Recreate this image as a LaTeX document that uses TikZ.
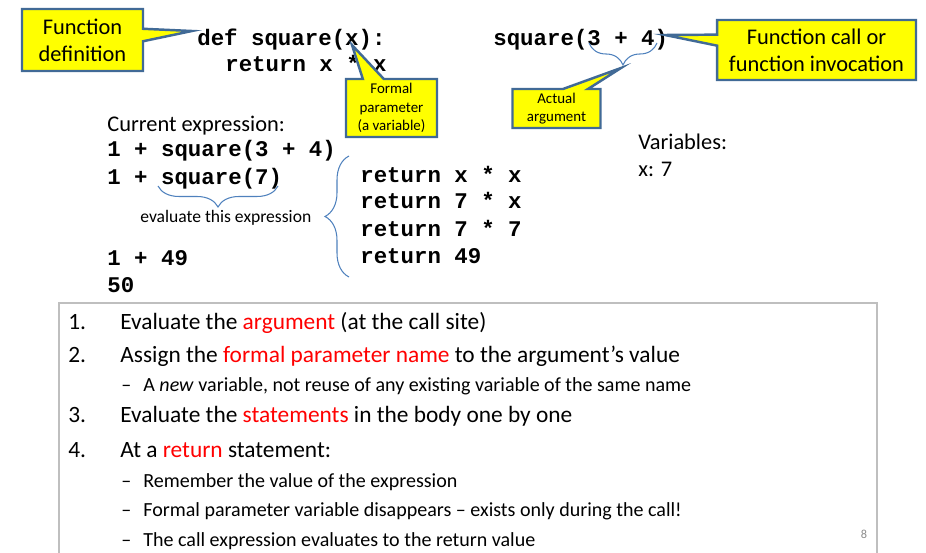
\documentclass[tikz,border=0pt]{standalone}
\usepackage{fontspec}
\setmainfont{Carlito}
\setmonofont{Liberation Mono}
\usetikzlibrary{shapes.callouts,decorations.pathreplacing}
\definecolor{notefill}{RGB}{255,255,0}
\definecolor{noteline}{RGB}{65,106,150}
\definecolor{bracecol}{RGB}{79,129,189}
\definecolor{framegray}{RGB}{191,191,191}
\definecolor{keyred}{RGB}{255,0,0}
\definecolor{pagegray}{RGB}{140,140,140}

\begin{document}
\begin{tikzpicture}[x=0.02cm,y=-0.02cm,
    code/.style={anchor=base west,inner sep=0pt,font=\fontsize{12.75}{15}\selectfont\ttfamily\bfseries},
    plain/.style={anchor=base west,inner sep=0pt,font=\fontsize{12.75}{15}\selectfont},
    note/.style={rectangle callout,draw=noteline,line width=1.4pt,fill=notefill,align=center,inner sep=0pt},
    bignote/.style={note,font=\fontsize{12.75}{15.2}\selectfont},
    smallnote/.style={note,font=\fontsize{8.5}{10.4}\selectfont},
    curly/.style={draw=bracecol,line width=0.6pt,decorate,decoration={brace,amplitude=#1}},
    listitem/.style={anchor=base west,inner sep=0pt,font=\fontsize{13.3}{16}\selectfont},
    listsub/.style={anchor=base west,inner sep=0pt,font=\fontsize{11.4}{14}\selectfont}
  ]
    \useasboundingbox (0,0) rectangle (926,553);

    % code at the top
    \node[code] (defline) at (197,46) {def square(x):};
    \node[code] (defret) at (225,72) {return x * x};
    \node[code] (callsite) at (493,46) {square(3 + 4)};

    % evaluation trace
    \node[plain] (curhead) at (107,132) {Current expression:};
    \node[code] (expr1) at (107,157) {1 + square(3 + 4)};
    \node[code] (expr2) at (107,185) {1 + square(7)};
    \node[plain,font=\fontsize{10}{12}\selectfont] (evalnote) at (140,223) {evaluate this expression};
    \node[code] (expr3) at (107,266) {1 + 49};
    \node[code] (expr4) at (107,293) {50};

    \node[code] (ret1) at (360,183) {return x * x};
    \node[code] (ret2) at (360,209) {return 7 * x};
    \node[code] (ret3) at (360,237) {return 7 * 7};
    \node[code] (ret4) at (360,264) {return 49};

    \node[plain] (varhead) at (638,150) {Variables:};
    \node[plain] (varx) at (638,177) {x: 7};

    % braces
    \coordinate (argR) at (657,43);
    \coordinate (argL) at (589,43);
    \coordinate (sqR) at (278,186);
    \coordinate (sqL) at (158,186);
    \coordinate (bodyB) at (349,277);
    \coordinate (bodyT) at (349,156);
    \draw[curly=0.44cm] (argR) -- (argL);
    \draw[curly=0.42cm] (sqR) -- (sqL);
    \draw[curly=0.48cm] (bodyB) -- (bodyT);

    % callouts
    \coordinate (deftip) at (192,31);
    \coordinate (calltip) at (665,35);
    \coordinate (formaltip) at (352,45);
    \coordinate (actualtip) at (621,68);
    \node[bignote,minimum width=2.42cm,minimum height=1.24cm,
      callout absolute pointer={(deftip)},callout pointer width=0.25cm] (defnote) at (82.5,40) {Function\\definition};
    \node[bignote,minimum width=3.98cm,minimum height=1.2cm,
      callout absolute pointer={(calltip)},callout pointer width=0.22cm] (callnote) at (816.5,50) {Function call or\\function invocation};
    \node[smallnote,minimum width=1.82cm,minimum height=1.16cm,
      callout absolute pointer={(formaltip)},callout pointer width=0.42cm] (formalnote) at (391.5,108) {Formal\\parameter\\(a variable)};
    \node[smallnote,minimum width=1.76cm,minimum height=0.78cm,
      callout absolute pointer={(actualtip)},callout pointer width=0.5cm] (actualnote) at (556.5,108.5) {Actual\\argument};

    % rules box
    \draw[framegray,line width=0.8pt] (59,553) -- (59,303) -- (877,303) -- (877,553);
    \node[listitem] (num1) at (68,330) {1.};
    \node[listitem] (step1) at (120,330) {Evaluate the \textcolor{keyred}{argument} (at the call site)};
    \node[listitem] (num2) at (68,363) {2.};
    \node[listitem] (step2) at (120,363) {Assign the \textcolor{keyred}{formal parameter name} to the argument’s value};
    \node[listsub] (dash2) at (121,392) {–};
    \node[listsub] (sub2) at (143,392) {A \textit{new} variable, not reuse of any existing variable of the same name};
    \node[listitem] (num3) at (68,423) {3.};
    \node[listitem] (step3) at (120,423) {Evaluate the \textcolor{keyred}{statements} in the body one by one};
    \node[listitem] (num4) at (68,458) {4.};
    \node[listitem] (step4) at (120,458) {At a \textcolor{keyred}{return} statement:};
    \node[listsub] (dash4a) at (121,487) {–};
    \node[listsub] (sub4a) at (143,487) {Remember the value of the expression};
    \node[listsub] (dash4b) at (121,517) {–};
    \node[listsub] (sub4b) at (143,517) {Formal parameter variable disappears – exists only during the call!};
    \node[listsub] (dash4c) at (121,546) {–};
    \node[listsub] (sub4c) at (143,546) {The call expression evaluates to the return value};
    \node[font=\fontsize{7}{8}\selectfont,text=pagegray,inner sep=0pt] (pagenum) at (864,534) {8};
  \end{tikzpicture}
\end{document}
